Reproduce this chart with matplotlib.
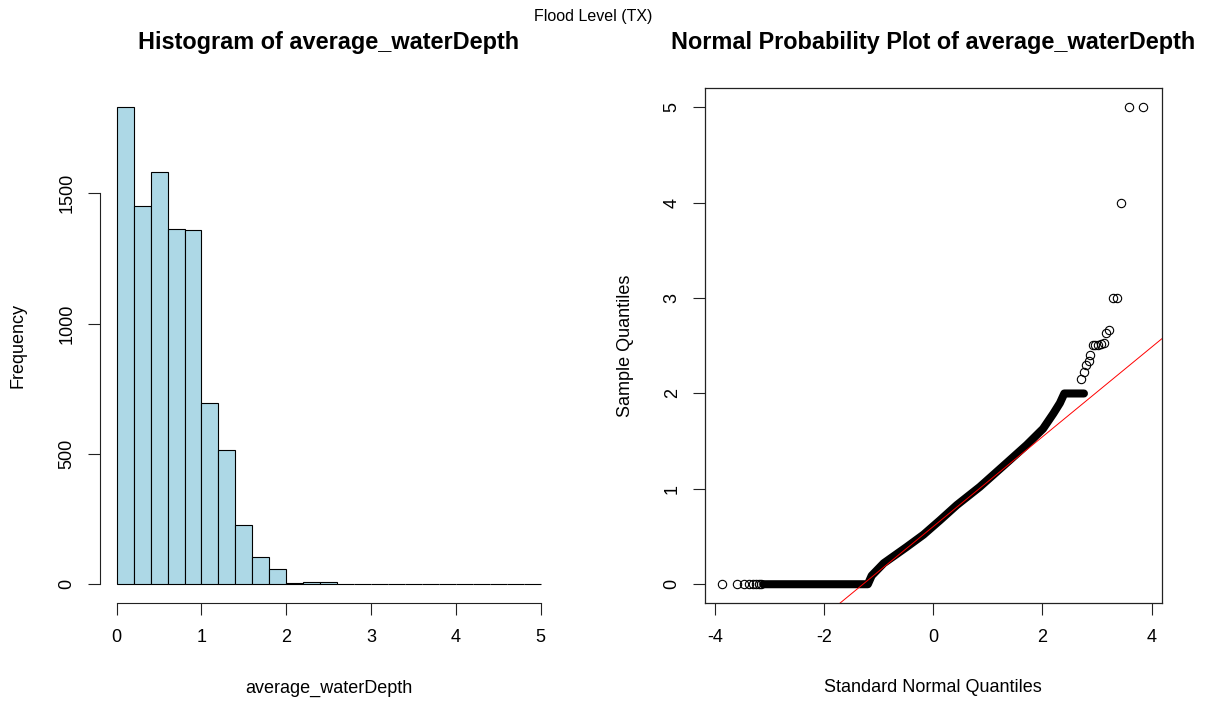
import matplotlib
matplotlib.use("Agg")
import matplotlib.pyplot as plt
import numpy as np

plt.rcParams["font.family"] = ["Liberation Sans", "DejaVu Sans"]

# histogram: 0.2-wide bins from 0 to 5
bin_edges = [0.0, 0.2, 0.4, 0.6, 0.8, 1.0, 1.2, 1.4, 1.6, 1.8, 2.0, 2.2, 2.4,
             2.6, 2.8, 3.0, 3.2, 3.4, 3.6, 3.8, 4.0, 4.2, 4.4, 4.6, 4.8, 5.0]
bin_counts = [1830, 1451, 1581, 1362, 1359, 697, 517, 228, 103, 58, 4, 8, 8,
              2, 2, 0, 0, 0, 0, 1, 0, 0, 0, 0, 2]

# normal probability plot: densely packed stretch (drawn as a band)
band_theo = [-3.12, -1.20, -1.13, -0.91, -0.49, -0.18, 0.12, 0.43, 0.85,
             1.34, 1.71, 2.01, 2.20, 2.32, 2.40, 2.76]
band_samp = [0.0, 0.0, 0.09, 0.22, 0.39, 0.52, 0.67, 0.83, 1.02,
             1.27, 1.46, 1.63, 1.79, 1.90, 2.00, 2.00]

# sparse points in both tails
tail_theo = [-3.88, -3.60, -3.47, -3.38, -3.31, -3.25, -3.20, -3.15,
             2.71, 2.76, 2.80, 2.85, 2.88, 2.93, 2.97, 3.02, 3.07, 3.12,
             3.16, 3.21, 3.30, 3.36, 3.43, 3.58, 3.85]
tail_samp = [0.0, 0.0, 0.0, 0.0, 0.0, 0.0, 0.0, 0.0,
             2.15, 2.23, 2.30, 2.34, 2.40, 2.51, 2.51, 2.51, 2.52, 2.53,
             2.63, 2.67, 3.00, 3.00, 4.00, 5.00, 5.00]

# reference line through the quartiles
qq_intercept = 0.606
qq_slope = 0.470

W, H = 1209, 703
fig = plt.figure(figsize=(W / 100, H / 100), dpi=100)

TICK = dict(direction="out", length=8.5, width=0.8, labelsize=13,
            color="#222222")


def px_rect(x0, y0, x1, y1):
    return [x0 / W, 1 - y1 / H, (x1 - x0) / W, (y1 - y0) / H]


# ---- histogram ----
ax = fig.add_axes(px_rect(99.7, 88.3, 557.7, 603.3))
edges = np.array(bin_edges)
ax.bar(edges[:-1], bin_counts, width=np.diff(edges), align="edge",
       color="#ADD8E6", edgecolor="black", linewidth=0.8)
ax.set_xlim(-0.2, 5.2)
ax.set_ylim(-0.04 * max(bin_counts), 1.04 * max(bin_counts))
ax.set_xticks([0, 1, 2, 3, 4, 5])
ax.set_yticks([0, 500, 1000, 1500])
for s in ("top", "right"):
    ax.spines[s].set_visible(False)
ax.spines["left"].set_bounds(0, 1500)
ax.spines["bottom"].set_bounds(0, 5)
for s in ("left", "bottom"):
    ax.spines[s].set_linewidth(0.8)
    ax.spines[s].set_color("#222222")
ax.tick_params(axis="x", pad=10, **TICK)
ax.tick_params(axis="y", pad=9, **TICK)
for lab in ax.get_yticklabels():
    lab.set_rotation(90)
    lab.set_va("center")

# ---- normal probability plot ----
bx = fig.add_axes(px_rect(705, 88.3, 1161.7, 603.3))
bx.plot(band_theo, band_samp, color="black", lw=5.8,
        solid_capstyle="round", solid_joinstyle="round")
bx.plot(tail_theo, tail_samp, "o", mfc="none", mec="black", ms=6, mew=0.8)
bx.axline((0, qq_intercept), slope=qq_slope, color="red", lw=0.7)
bx.set_xlim(-4.185, 4.185)
bx.set_ylim(-0.2, 5.2)
bx.set_xticks([-4, -2, 0, 2, 4])
bx.set_yticks([0, 1, 2, 3, 4, 5])
bx.set_xticklabels(["-4", "-2", "0", "2", "4"])
for s in bx.spines.values():
    s.set_linewidth(0.9)
    s.set_color("#222222")
bx.tick_params(axis="x", pad=10, **TICK)
bx.tick_params(axis="y", pad=9, **TICK)
for lab in bx.get_yticklabels():
    lab.set_rotation(90)
    lab.set_va("center")

# ---- titles and axis labels ----
fig.text(593 / W, 1 - 16 / H, "Flood Level (TX)", ha="center", va="center",
         fontsize=11.5)
fig.text(328.7 / W, 1 - 43 / H, "Histogram of average_waterDepth",
         ha="center", va="center", fontsize=16.9, fontweight="bold")
fig.text(933.3 / W, 1 - 43 / H, "Normal Probability Plot of average_waterDepth",
         ha="center", va="center", fontsize=16.9, fontweight="bold")
fig.text(328.7 / W, 1 - 688 / H, "average_waterDepth", ha="center",
         va="center", fontsize=13)
fig.text(933.3 / W, 1 - 688 / H, "Standard Normal Quantiles", ha="center",
         va="center", fontsize=13)
fig.text(18 / W, 1 - 345.8 / H, "Frequency", ha="center", va="center",
         rotation=90, fontsize=13)
fig.text(625 / W, 1 - 345.8 / H, "Sample Quantiles", ha="center",
         va="center", rotation=90, fontsize=13)

fig.savefig("out.png", dpi=100)
plt.close(fig)
